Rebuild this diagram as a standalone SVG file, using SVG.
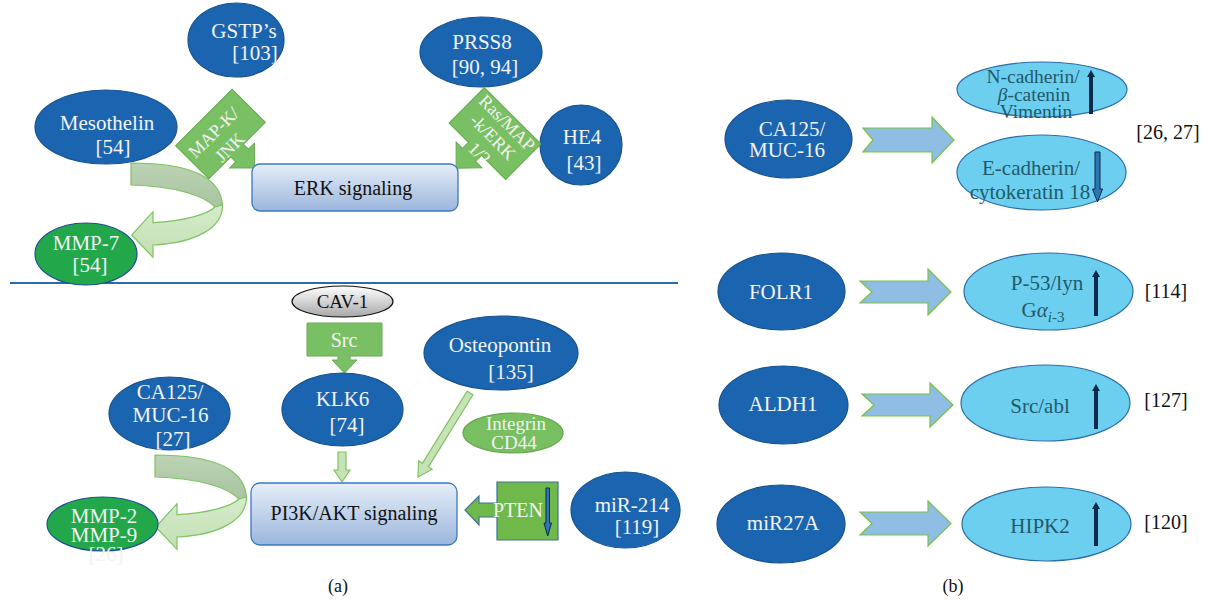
<svg xmlns="http://www.w3.org/2000/svg" width="1208" height="604" viewBox="0 0 1208 604">
<defs>
<linearGradient id="boxGrad" x1="0" y1="0" x2="0" y2="1"><stop offset="0" stop-color="#e6eef8"/><stop offset="1" stop-color="#9bb6dc"/></linearGradient>
<linearGradient id="cavGrad" x1="0" y1="0" x2="0" y2="1"><stop offset="0" stop-color="#ffffff"/><stop offset="1" stop-color="#a8a8a8"/></linearGradient>
<linearGradient id="darkBand" x1="0" y1="0" x2="0" y2="1"><stop offset="0" stop-color="#bcd3b4"/><stop offset="1" stop-color="#a8c4a1"/></linearGradient>
<linearGradient id="lightBand" x1="0" y1="0" x2="0" y2="1"><stop offset="0" stop-color="#d5ebca"/><stop offset="1" stop-color="#c3e0b5"/></linearGradient>
<style>
.nb{fill:#1b65b0;stroke:#17528f;stroke-width:1.2}
.nc{fill:#6dcff0;stroke:#2b6ea8;stroke-width:1.2}
.ng{fill:#22a84b;stroke:#1d4f91;stroke-width:1.2}
.box{fill:url(#boxGrad);stroke:#3b78c2;stroke-width:1.3}
.t{font-family:"Liberation Serif","DejaVu Serif",serif;text-anchor:middle}
.tw{fill:#f3f3f3;font-size:21px}
.tk{fill:#111111;font-size:20px}
.tc{fill:#1f5a6a;font-size:21px}
.co{fill:#79c064;stroke:#68aa50;stroke-width:1}
.lg{fill:#c8e2b8;stroke:#7ec361;stroke-width:1.2}
.ba{fill:#8fbde3;stroke:#7ac144;stroke-width:1.2}
.up{fill:#0c2a4b}
.dn{fill:#2e75b6;stroke:#0c2a4b;stroke-width:1}
.bandD{fill:url(#darkBand);stroke:#7ec361;stroke-width:1.2}
.bandL{fill:url(#lightBand);stroke:#7ec361;stroke-width:1.2}
</style>
</defs>
<rect width="1208" height="604" fill="#ffffff"/>

<!-- separator -->
<line x1="10" y1="283" x2="678" y2="283" stroke="#2a6ab4" stroke-width="2"/>

<g id="connectors">
  <!-- Mesothelin -> MMP-7 curved arrow -->
  <g id="curve-top">
    <path class="bandD" d="M131,163 C185,163 222,175 222.5,207 L215,207 C205,196 175,186 131,185 Z"/>
    <path class="bandL" d="M222.5,205 C223,228 195,243 153,245 L153,257.3 L131.7,235 L153,211.7 L153,222.7 C185,221 208,214 215,207 Z"/>
  </g>
  <!-- CA125 -> MMP-2/9 curved arrow -->
  <g id="curve-bottom" transform="translate(24,292)">
    <path class="bandD" d="M131,163 C185,163 222,175 222.5,207 L215,207 C205,196 175,186 131,185 Z"/>
    <path class="bandL" d="M222.5,205 C223,228 195,243 153,245 L153,257.3 L131.7,235 L153,211.7 L153,222.7 C185,221 208,214 215,207 Z"/>
  </g>
  <!-- KLK6 -> PI3K -->
  <polygon class="lg" points="338,452 346,452 346,470 350,470 342,482 334,470 338,470"/>
  <!-- Osteopontin -> PI3K -->
  <polygon class="lg" points="467,391.2 473,394.8 428.4,466.9 432.2,469.3 418,477 418.6,460.9 422.4,463.3"/>
  <!-- right panel arrows -->
  <polygon class="ba" points="863,128 932,128 932,117 954,140 932,163 932,152 863,152 873,140"/>
  <polygon class="ba" points="860,281 928,281 928,269 951,292 928,315 928,303 860,303 872,292"/>
  <polygon class="ba" points="862,394 930,394 930,383 953,405 930,427 930,416 862,416 874,405"/>
  <polygon class="ba" points="860,512 928,512 928,501 951,523.5 928,546 928,535 860,535 872,523.5"/>
</g>

<!-- Panel (a) top -->
<g id="gstp">
  <ellipse class="nb" cx="236" cy="40" rx="48" ry="37"/>
  <text class="t tw" x="244" y="38">GSTP’s</text>
  <text class="t tw" x="255" y="60">[103]</text>
</g>
<g id="prss8">
  <ellipse class="nb" cx="481" cy="52" rx="61" ry="35"/>
  <text class="t tw" x="482" y="49">PRSS8</text>
  <text class="t tw" x="485" y="74">[90, 94]</text>
</g>
<g id="mesothelin">
  <ellipse class="nb" cx="106" cy="127" rx="71" ry="37"/>
  <text class="t tw" x="107" y="130">Mesothelin</text>
  <text class="t tw" x="113" y="154">[54]</text>
</g>
<g id="he4">
  <ellipse class="nb" cx="581" cy="145" rx="41" ry="40"/>
  <text class="t tw" x="582" y="144">HE4</text>
  <text class="t tw" x="584" y="170">[43]</text>
</g>
<g id="mapk-jnk" transform="translate(220.5,134) rotate(-45)">
  <polygon class="co" points="-40,-23.5 40,-23.5 40,23.5 9,23.5 9,30.5 17.5,30.5 0,48 -17.5,30.5 -9,30.5 -9,23.5 -40,23.5"/>
  <text class="t" fill="#f3f3f3" font-size="18" x="-4" y="0">MAP-K/</text>
  <text class="t" fill="#f3f3f3" font-size="18" x="-3" y="22">JNK</text>
</g>
<g id="ras-map" transform="translate(495,133.5) rotate(45)">
  <polygon class="co" points="-40,-25 40,-25 40,25 6,25 6,33.5 15,33.5 -3,52 -21.5,33.5 -12.5,33.5 -12.5,25 -40,25"/>
  <text class="t" fill="#f3f3f3" font-size="18" x="1" y="-10">Ras/MAP</text>
  <text class="t" fill="#f3f3f3" font-size="18" x="1" y="10">-k/ERK</text>
  <text class="t" fill="#f3f3f3" font-size="18" x="3" y="31">1/2</text>
</g>
<g id="erk">
  <rect class="box" x="252" y="164" width="206" height="47" rx="8"/>
  <text class="t tk" x="353" y="195">ERK signaling</text>
</g>
<g id="mmp7">
  <ellipse class="ng" cx="86" cy="254" rx="51" ry="31"/>
  <text class="t tw" x="86" y="250">MMP-7</text>
  <text class="t tw" x="90" y="272">[54]</text>
</g>

<!-- Panel (a) bottom -->
<g id="cav1">
  <ellipse cx="342.5" cy="301.5" rx="50.5" ry="15.5" fill="url(#cavGrad)" stroke="#111" stroke-width="1.2"/>
  <text class="t" fill="#111" font-size="19" x="342.5" y="308">CAV-1</text>
</g>
<g id="src">
  <polygon class="co" points="307,323 382,323 382,356 350,356 350,360 357,360 344.5,373 332,360 338,360 338,356 307,356"/>
  <text class="t" fill="#f3f3f3" font-size="20" x="344" y="347">Src</text>
</g>
<g id="klk6">
  <ellipse class="nb" cx="342.5" cy="409.5" rx="60.5" ry="36.5"/>
  <text class="t tw" x="342.5" y="406">KLK6</text>
  <text class="t tw" x="347" y="432">[74]</text>
</g>
<g id="osteopontin">
  <ellipse class="nb" cx="501" cy="353" rx="77" ry="37"/>
  <text class="t tw" x="500" y="352">Osteopontin</text>
  <text class="t tw" x="511" y="379">[135]</text>
</g>
<g id="integrin">
  <ellipse cx="513" cy="433" rx="50" ry="20" fill="#77bf60" stroke="#6aa84f" stroke-width="1.2"/>
  <text class="t" fill="#f3f3f3" font-size="19" x="516" y="430">Integrin</text>
  <text class="t" fill="#f3f3f3" font-size="19" x="514" y="449">CD44</text>
</g>
<g id="ca125-a">
  <ellipse class="nb" cx="169.5" cy="413.5" rx="60.5" ry="36.5"/>
  <text class="t tw" x="170" y="399">CA125/</text>
  <text class="t tw" x="170.5" y="422">MUC-16</text>
  <text class="t tw" x="173" y="446">[27]</text>
</g>
<g id="mmp29">
  <ellipse class="ng" cx="102.5" cy="524" rx="55.5" ry="27"/>
  <text class="t tw" x="104" y="523">MMP-2</text>
  <text class="t tw" x="104" y="542">MMP-9</text>
  <text class="t tw" x="106" y="561">[26]</text>
</g>
<g id="pi3k">
  <rect class="box" x="251" y="483" width="206" height="62" rx="9"/>
  <text class="t tk" x="354" y="520">PI3K/AKT signaling</text>
</g>
<g id="pten">
  <polygon points="497,482 558,482 558,540 497,540 497,517 479,517 479,525 465,510 479,496 479,503 497,503" fill="#6fb84a" stroke="#41719c" stroke-width="1.2"/>
  <text class="t" fill="#f3f3f3" font-size="20" x="518" y="517">PTEN</text>
  <polygon class="dn" points="546,488 549.5,488 549.5,523 551.5,523 547.7,536 544,523 546,523"/>
</g>
<g id="mir214">
  <ellipse class="nb" cx="625.5" cy="510" rx="54.5" ry="38"/>
  <text class="t tw" x="632" y="512">miR-214</text>
  <text class="t tw" x="637" y="534">[119]</text>
</g>

<!-- Panel (b) -->
<g id="ca125-b">
  <ellipse class="nb" cx="788.5" cy="139" rx="63.5" ry="39"/>
  <text class="t tw" x="792" y="136">CA125/</text>
  <text class="t tw" x="787" y="157">MUC-16</text>
</g>
<g id="ncad">
  <ellipse class="nc" cx="1042" cy="89.5" rx="85" ry="27.5"/>
  <text class="t" fill="#1f5a6a" font-size="19.5" x="1033" y="83">N-cadherin/</text>
  <text class="t" fill="#1f5a6a" font-size="19.5" x="1034" y="101"><tspan font-style="italic">β</tspan>-catenin</text>
  <text class="t" fill="#1f5a6a" font-size="19.5" x="1036" y="118">Vimentin</text>
  <polygon class="up" points="1091,70 1095,77 1093,77 1093,114 1089,114 1089,77 1087,77"/>
</g>
<g id="ecad">
  <ellipse class="nc" cx="1041.5" cy="172.5" rx="84.5" ry="37.5"/>
  <text class="t tc" x="1031" y="175">E-cadherin/</text>
  <text class="t tc" x="1030" y="199">cytokeratin 18</text>
  <polygon class="dn" points="1095,152 1100,152 1100,189 1102.5,189 1097.5,202 1092.5,189 1095,189"/>
</g>
<text class="t tk" x="1168" y="139">[26, 27]</text>

<g id="folr1">
  <ellipse class="nb" cx="781.5" cy="291.5" rx="63.5" ry="38.5"/>
  <text class="t tw" x="781" y="299">FOLR1</text>
</g>
<g id="p53">
  <ellipse class="nc" cx="1048.5" cy="291.5" rx="84.5" ry="38.5"/>
  <text class="t tc" x="1047" y="290">P-53/lyn</text>
  <text class="t tc" x="1043" y="317">G<tspan font-style="italic">α</tspan><tspan font-style="italic" font-size="15" dy="5">i</tspan><tspan font-size="15">-3</tspan></text>
  <polygon class="up" points="1096,270 1100,277 1098,277 1098,316 1094,316 1094,277 1092,277"/>
</g>
<text class="t tk" x="1166" y="298">[114]</text>

<g id="aldh1">
  <ellipse class="nb" cx="783.5" cy="405" rx="64.5" ry="39"/>
  <text class="t tw" x="783" y="411">ALDH1</text>
</g>
<g id="srcabl">
  <ellipse class="nc" cx="1045.5" cy="403" rx="84.5" ry="38"/>
  <text class="t tc" x="1040" y="413">Src/abl</text>
  <polygon class="up" points="1096,384 1100,391 1098,391 1098,429 1094,429 1094,391 1092,391"/>
</g>
<text class="t tk" x="1166" y="407">[127]</text>

<g id="mir27a">
  <ellipse class="nb" cx="781" cy="524" rx="64" ry="39"/>
  <text class="t tw" x="783" y="530">miR27A</text>
</g>
<g id="hipk2">
  <ellipse class="nc" cx="1046.5" cy="524" rx="84.5" ry="37"/>
  <text class="t tc" x="1040" y="533">HIPK2</text>
  <polygon class="up" points="1096,502 1100,509 1098,509 1098,546 1094,546 1094,509 1092,509"/>
</g>
<text class="t tk" x="1166" y="529">[120]</text>

<text class="t" fill="#111" font-size="18" x="338" y="592">(a)</text>
<text class="t" fill="#111" font-size="18" x="953" y="592">(b)</text>
</svg>
